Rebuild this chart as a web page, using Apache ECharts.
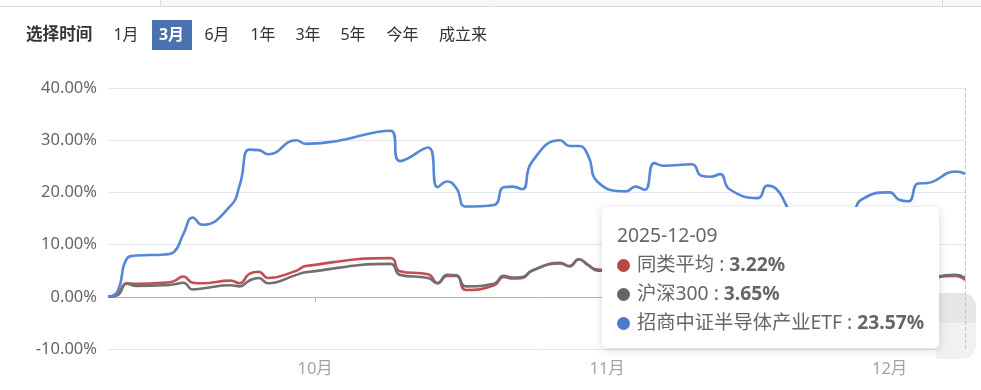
<!DOCTYPE html>
<html><head><meta charset="utf-8">
<script src="https://cdn.jsdelivr.net/npm/echarts@6/dist/echarts.min.js"></script>
<style>html,body{margin:0;padding:0;background:#fff;overflow:hidden}#c{width:981px;height:390px}</style>
</head><body><div id="c"></div>
<script>
const dates=['2025-09-09','2025-09-10','2025-09-11','2025-09-12','2025-09-15','2025-09-16','2025-09-17','2025-09-18','2025-09-19','2025-09-22','2025-09-23','2025-09-24','2025-09-25','2025-09-26','2025-09-29','2025-09-30','2025-10-09','2025-10-10','2025-10-13','2025-10-14','2025-10-15','2025-10-16','2025-10-17','2025-10-20','2025-10-21','2025-10-22','2025-10-23','2025-10-24','2025-10-27','2025-10-28','2025-10-29','2025-10-30','2025-10-31','2025-11-03','2025-11-04','2025-11-05','2025-11-06','2025-11-07','2025-11-10','2025-11-11','2025-11-12','2025-11-13','2025-11-14','2025-11-17','2025-11-18','2025-11-19','2025-11-20','2025-11-21','2025-11-24','2025-11-25','2025-11-26','2025-11-27','2025-11-28','2025-12-01','2025-12-02','2025-12-03','2025-12-04','2025-12-05','2025-12-08','2025-12-09'];
const avgVals=[0,0.5,2.6,2.5,2.7,3.0,3.9,2.7,2.6,3.1,2.6,4.4,4.8,3.6,5.0,5.9,7.4,4.9,4.3,2.6,4.0,4.0,1.3,2.2,3.8,3.5,3.6,5.0,6.4,5.8,7.2,6.0,5.2,5.0,4.2,4.4,5.6,5.3,5.6,5.4,5.3,5.8,4.8,4.5,3.6,3.4,3.0,0.8,1.0,1.5,1.6,1.9,2.3,2.9,2.5,2.0,2.4,3.3,4.0,3.22];
const hs300Vals=[0,0.3,2.5,2.1,2.2,2.4,2.7,1.4,1.6,2.2,2.0,3.1,3.6,2.6,4.2,4.7,6.3,4.2,3.6,2.6,4.2,4.1,2.0,2.5,4.0,3.7,3.8,5.0,6.5,5.9,7.2,6.1,5.0,5.1,4.4,4.6,5.8,5.5,5.9,5.7,5.5,6.0,5.0,4.7,3.8,3.6,3.2,0.9,1.1,1.6,1.7,2.0,2.4,3.0,2.6,2.2,2.6,3.4,4.2,3.65];
const etfVals=[0,1.0,7.3,7.9,8.1,8.6,12.0,15.2,13.8,17.4,21.5,28.2,28.1,27.3,30.0,29.3,31.8,26.0,28.6,21.0,22.1,20.8,17.3,17.6,21.0,21.1,20.6,25.8,30.0,28.9,28.9,27.0,22.0,20.2,21.1,20.5,25.6,25.1,25.4,23.2,23.0,23.5,20.6,18.9,21.3,20.6,17.6,13.6,13.9,14.2,14.5,15.5,18.6,20.0,18.6,18.3,21.7,21.8,24.0,23.57];
const seriesNames=['同类平均','沪深300','招商中证半导体产业ETF'];
const seriesColors=['#b3474a','#666666','#4d7bc3'];
const yMin=-10, yMax=40, yStep=10;
const monthTickDates=['2025-10-01','2025-11-01','2025-12-01'];
const monthTickLabels=['10月','11月','12月'];
const rangeButtons=['1月','3月','6月','1年','3年','5年','今年','成立来'];
const selectedRange='3月';
const toolbarTitle='选择时间';

const FONT='"Noto Sans","Noto Sans CJK SC",sans-serif';
function ts(s){const p=s.split('-').map(Number);return Date.UTC(p[0],p[1]-1,p[2]);}
const monthTs=monthTickDates.map(ts);

// layout (button centers)
const btnCenters=[126,171.5,217,263,308,353,402.5,463];
const graphics=[
  {type:'rect',shape:{x:160,y:0,width:821,height:6},style:{fill:'#f7f7f9'},silent:true},
  {type:'line',shape:{x1:0,y1:6.5,x2:981,y2:6.5},style:{stroke:'#dcdcdc',lineWidth:1},silent:true},
  {type:'line',shape:{x1:160.5,y1:0,x2:160.5,y2:6},style:{stroke:'#dcdcdc',lineWidth:1},silent:true},
  {type:'line',shape:{x1:942.5,y1:0,x2:942.5,y2:6},style:{stroke:'#dcdcdc',lineWidth:1},silent:true},
  {type:'text',x:26,y:35,style:{text:toolbarTitle,fill:'#333',font:'bold 16.6px '+FONT,textAlign:'left',textVerticalAlign:'middle'},silent:true}
];
rangeButtons.forEach((b,i)=>{
  const sel=b===selectedRange;
  if(sel) graphics.push({type:'rect',shape:{x:152,y:20,width:40,height:30},style:{fill:'#4a72b0'},silent:true});
  graphics.push({type:'text',x:btnCenters[i],y:35,style:{text:b,fill:sel?'#fff':'#333',font:(sel?'bold ':'')+'16px '+FONT,textAlign:'center',textVerticalAlign:'middle'},silent:true});
});
graphics.push({type:'rect',shape:{x:936,y:293,width:40,height:30,r:[0,14,0,0]},style:{fill:'#e6e6e6'},silent:true,z:50});
graphics.push({type:'rect',shape:{x:936,y:323,width:40,height:36,r:[0,0,14,0]},style:{fill:'#f1f1f3'},silent:true,z:50});

const valsList=[avgVals,hs300Vals,etfVals];
const chart=echarts.init(document.getElementById('c'),null,{renderer:'canvas'});
chart.setOption({
  animation:false,
  textStyle:{fontFamily:FONT},
  grid:{left:108,right:16,top:88,bottom:41,outerBoundsMode:'none',containLabel:false},
  graphic:graphics,
  xAxis:{type:'value',min:ts(dates[0]),max:ts(dates[dates.length-1]),scale:true,
    axisLine:{onZero:true,lineStyle:{color:'#b4b4b4',width:1}},
    axisTick:{show:true,customValues:monthTs,length:5,lineStyle:{color:'#b4b4b4'}},
    axisLabel:{customValues:monthTs,formatter:v=>monthTickLabels[monthTs.indexOf(v)]||'',color:'#a3a3a3',fontSize:16.5,margin:12,fontFamily:FONT},
    splitLine:{show:false},axisPointer:{label:{show:false}}},
  yAxis:{type:'value',min:yMin,max:yMax,interval:yStep,
    axisLine:{show:false},axisTick:{show:false},
    axisLabel:{formatter:v=>v.toFixed(2)+'%',color:'#666',fontSize:16.5,margin:11,fontFamily:FONT},
    splitLine:{lineStyle:{color:'#e3e8f2',width:1}}},
  tooltip:{trigger:'axis',triggerOn:'none',alwaysShowContent:true,transitionDuration:0,
    position:[602,207],backgroundColor:'#fff',borderWidth:0,padding:[13,15,12,15],
    textStyle:{fontSize:19.3,color:'#666',fontFamily:FONT},
    extraCssText:'box-shadow:0 2px 10px rgba(0,0,0,0.16);border-radius:5px;line-height:29px;',
    axisPointer:{type:'line',lineStyle:{color:'#c2c5d0',type:'dashed',width:1}},
    formatter:ps=>{
      let s='<div>'+dates[ps[0].dataIndex]+'</div>';
      ps.forEach(p=>{s+='<div><span style="display:inline-block;width:13px;height:13px;border-radius:50%;background:'+p.color+';margin-right:7px;vertical-align:-1px"></span>'+p.seriesName+' : <b>'+p.value[1].toFixed(2)+'%</b></div>';});
      return s;
    }},
  series:valsList.map((vals,k)=>({name:seriesNames[k],type:'line',smooth:true,symbol:'none',
    color:seriesColors[k],lineStyle:{width:2.6,color:seriesColors[k]},
    data:dates.map((d,i)=>[ts(d),vals[i]])}))
});
chart.dispatchAction({type:'showTip',seriesIndex:2,dataIndex:dates.length-1});
</script></body></html>
